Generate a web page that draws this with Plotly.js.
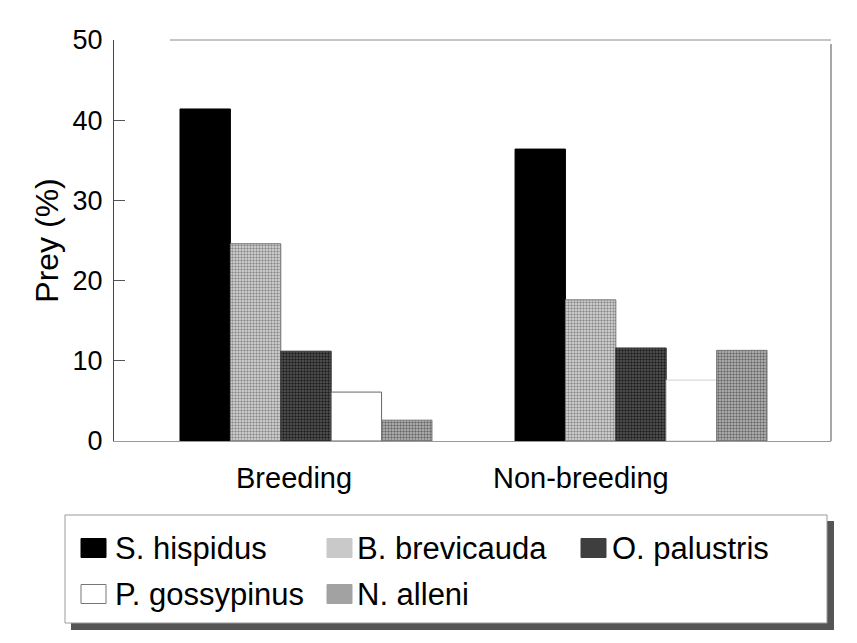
<!DOCTYPE html>
<html>
<head>
<meta charset="utf-8">
<script src="https://cdn.plot.ly/plotly-3.0.1.min.js"></script>
<style>
html,body{margin:0;padding:0;background:#fff;}
#chart{width:857px;height:643px;}
</style>
</head>
<body>
<div id="chart"></div>
<script>
// ---- data ----
const categories = ['Breeding', 'Non-breeding'];
const seriesNames = ['S. hispidus', 'B. brevicauda', 'O. palustris', 'P. gossypinus', 'N. alleni'];
const sHispidus   = [41.4, 36.4];
const bBrevicauda = [24.6, 17.6];
const oPalustris  = [11.2, 11.6];
const pGossypinus = [6.1, 7.6];
const nAlleni     = [2.6, 11.3];
const yTickVals = [0, 10, 20, 30, 40, 50];

// ---- styles ----
const W = 857, H = 643;
const M = {l: 114, r: 26, t: 40, b: 202};
const PW = W - M.l - M.r, PH = H - M.t - M.b;
const px = x => (x - M.l) / PW;          // pixel -> paper x
const py = y => (H - M.b - y) / PH;      // pixel -> paper y
const FONT = 'Liberation Sans, Arial, sans-serif';

const styles = [
  {bg: '#000000', fg: '#000000', line: '#000000', swatch: '#000000', shape: ''},
  {bg: '#dedede', fg: '#8c8c8c', line: '#777777', swatch: '#c9c9c9', shape: '.'},
  {bg: '#5a5a5a', fg: '#1e1e1e', line: '#333333', swatch: '#3e3e3e', shape: '.'},
  {bg: '#ffffff', fg: '#ffffff', line: ['#666666', '#d0d0d0'], swatch: '#ffffff', shape: ''},
  {bg: '#bdbdbd', fg: '#6a6a6a', line: '#777777', swatch: '#a2a2a2', shape: '.'}
];
const values = [sHispidus, bBrevicauda, oPalustris, pGossypinus, nAlleni];

const traces = values.map((v, i) => ({
  type: 'bar',
  name: seriesNames[i],
  x: categories,
  y: v,
  showlegend: false,
  marker: {
    color: styles[i].bg,
    line: {color: styles[i].line, width: 1},
    pattern: styles[i].shape ? {shape: styles[i].shape, bgcolor: styles[i].bg, fgcolor: styles[i].fg, size: 3, solidity: 0.5} : undefined
  }
}));

// legend (drawn manually to match swatch sizes)
const legendPos = [
  {sx: 81, tx: 113, y: 548}, {sx: 327, tx: 355, y: 548}, {sx: 581, tx: 610, y: 548},
  {sx: 81, tx: 113, y: 594}, {sx: 327, tx: 355, y: 594}
];
const shapes = [];
const annotations = [];
// plot frame top & right
shapes.push({type: 'line', xref: 'paper', yref: 'paper', x0: px(170), x1: 1, y0: 1, y1: 1, line: {color: '#8a8a8a', width: 1}});
shapes.push({type: 'line', xref: 'paper', yref: 'paper', x0: 1, x1: 1, y0: 0, y1: 0.99, line: {color: '#8a8a8a', width: 1.5}});
// legend box + shadow
shapes.push({type: 'rect', xref: 'paper', yref: 'paper', x0: px(71), x1: px(834), y0: py(630), y1: py(623), fillcolor: '#555555', line: {width: 0}});
shapes.push({type: 'rect', xref: 'paper', yref: 'paper', x0: px(827), x1: px(834), y0: py(630), y1: py(521), fillcolor: '#555555', line: {width: 0}});
shapes.push({type: 'rect', xref: 'paper', yref: 'paper', x0: px(65), x1: px(827), y0: py(623), y1: py(515), fillcolor: 'rgba(0,0,0,0)', line: {color: '#9a9a9a', width: 1}});
seriesNames.forEach((n, i) => {
  const p = legendPos[i];
  shapes.push({type: 'rect', xref: 'paper', yref: 'paper', x0: px(p.sx), x1: px(p.sx + 25), y0: py(p.y + 9.5), y1: py(p.y - 9.5),
    fillcolor: styles[i].swatch, line: {color: i === 3 ? '#777777' : styles[i].swatch, width: 1}});
  annotations.push({xref: 'paper', yref: 'paper', x: px(p.tx), y: py(p.y), xanchor: 'left', yanchor: 'middle', showarrow: false,
    text: n, font: {family: FONT, size: 31, color: '#000'}});
});
// category labels
const catLabelX = [293.5, 581];
categories.forEach((c, i) => {
  annotations.push({xref: 'paper', yref: 'paper', x: px(catLabelX[i]), y: py(478), xanchor: 'center', yanchor: 'middle', showarrow: false,
    text: c, font: {family: FONT, size: 29, color: '#000'}});
});

const layout = {
  width: W, height: H,
  margin: M,
  paper_bgcolor: '#ffffff', plot_bgcolor: '#ffffff',
  barmode: 'group', bargap: 0.248, bargroupgap: 0,
  font: {family: FONT, color: '#000'},
  xaxis: {
    type: 'category', range: [-0.573, 1.567], showticklabels: false, ticks: '',
    showline: true, linecolor: '#9a9a9a', linewidth: 1, showgrid: false, zeroline: false, fixedrange: true
  },
  yaxis: {
    range: [0, 50], tickvals: yTickVals, ticks: 'inside', ticklen: 11, tickcolor: '#555', tickwidth: 1,
    showline: true, linecolor: '#444', linewidth: 1, showgrid: false, zeroline: false,
    tickfont: {family: FONT, size: 27, color: '#000'}, ticklabelstandoff: 5,
    title: {text: 'Prey (%)', font: {family: FONT, size: 32, color: '#000'}, standoff: 4},
    automargin: false
  },
  shapes: shapes,
  annotations: annotations,
  showlegend: false
};

Plotly.newPlot('chart', traces, layout, {staticPlot: true, displayModeBar: false});
</script>
</body>
</html>
